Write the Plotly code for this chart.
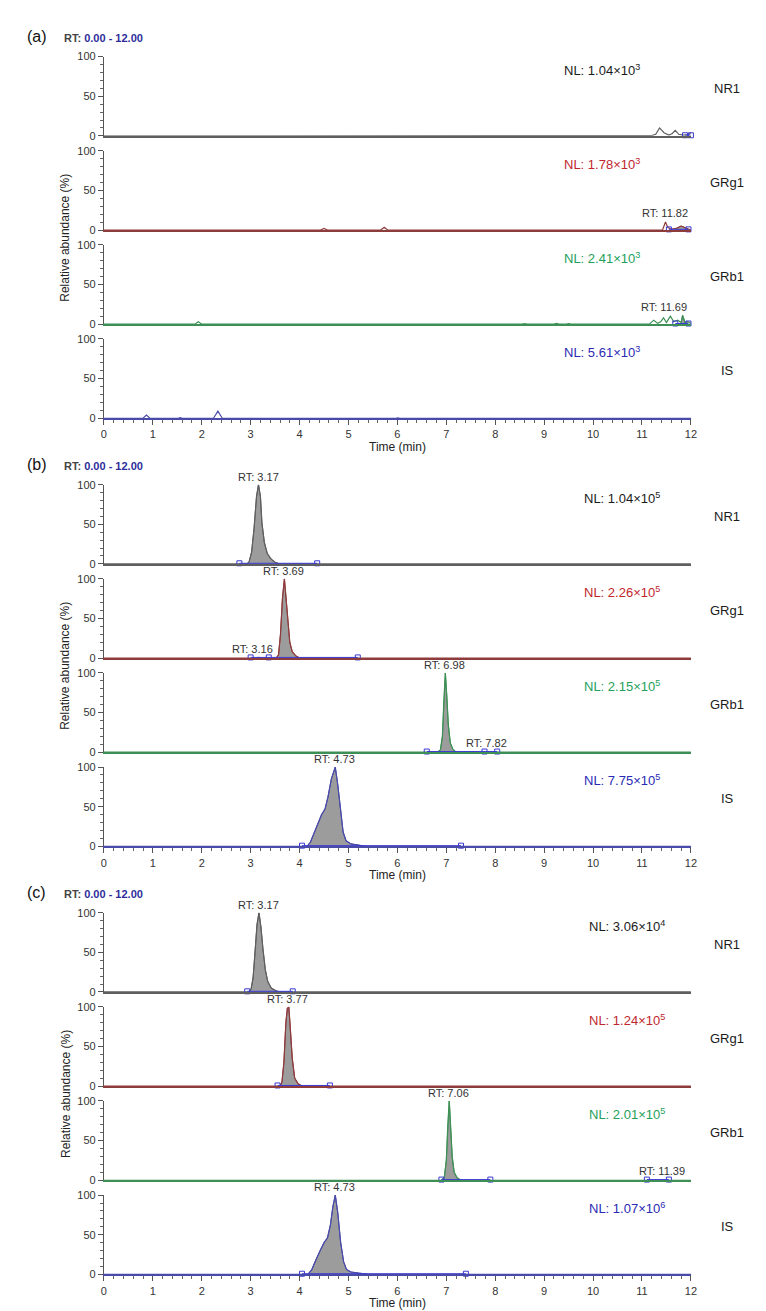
import plotly.graph_objects as go

W, H = 766, 1311
PX0, PX1 = 94, 688
PANEL_TOPS = [43, 475, 907]
SUB_STEP = 95
SUB_H = 80

compounds = ["NR1", "GRg1", "GRb1", "IS"]
line_colors = ["#5f5f5f", "#8e3b3b", "#3d8f55", "#4a4aa8"]
nl_colors = ["#1a1a1a", "#c0272d", "#23a05a", "#2a2ab4"]
panel_labels = ["(a)", "(b)", "(c)"]
nl_x_px = [558, 578, 583]

nl_mant = [["1.04", "1.78", "2.41", "5.61"],
           ["1.04", "2.26", "2.15", "7.75"],
           ["3.06", "1.24", "2.01", "1.07"]]
nl_exp = [[3, 3, 3, 3],
          [5, 5, 5, 5],
          [4, 5, 5, 6]]

# ---------------- panel (a): blank ----------------
a_nr1_t = [0, 1.6, 1.65, 1.7, 2.9, 2.95, 3.0, 5.5, 5.55, 5.6, 5.65, 5.7, 8.25, 8.3, 8.35, 9.95, 10.0, 10.05,
           11.2, 11.28, 11.36, 11.45, 11.55, 11.62, 11.68, 11.75, 11.85, 11.95, 12.0]
a_nr1_y = [0, 0, 0.8, 0, 0, 0.6, 0, 0, 0.6, 0, 0.6, 0, 0, 0.5, 0, 0, 0.6, 0,
           0.5, 2, 10, 4, 1, 3, 7, 2, 1, 1.5, 4]
a_grg1_t = [0, 1.88, 1.93, 1.98, 3.07, 3.12, 3.17, 3.67, 3.72, 3.77, 4.43, 4.5, 4.57, 5.66, 5.73, 5.8,
            6.45, 6.5, 6.55, 9.2, 9.25, 9.3, 10.6, 10.64, 10.68, 11.0, 11.04, 11.08, 11.42, 11.48, 11.53,
            11.6, 11.7, 11.8, 11.88, 11.95, 12.0]
a_grg1_y = [0, 0, 0.8, 0, 0, 0.6, 0, 0, 0.6, 0, 0, 2, 0, 0, 3.5, 0,
            0, 0.8, 0, 0, 0.5, 0, 0, 0.5, 0, 0, 0.6, 0, 0, 10, 3,
            1, 2, 5, 3, 1, 0]
a_grb1_t = [0, 1.86, 1.93, 2.0, 8.55, 8.6, 8.65, 8.95, 9.0, 9.05, 9.2, 9.25, 9.3, 9.45, 9.5, 9.55,
            10.3, 10.34, 10.38, 10.5, 10.54, 10.58, 10.8, 10.83, 10.86, 11.15, 11.24, 11.32, 11.38, 11.44,
            11.5, 11.58, 11.65, 11.73, 11.8, 11.83, 11.88, 11.93, 12.0]
a_grb1_y = [0, 0, 3, 0, 0, 0.8, 0, 0, 0.8, 0, 0, 1, 0, 0, 0.8, 0,
            0, 0.8, 0, 0, 0.8, 0, 0, 0.8, 0, 0, 5, 1, 3, 8,
            2, 10, 3, 5, 2, 11, 2, 3, 1]
a_is_t = [0, 0.8, 0.87, 0.94, 1.52, 1.56, 1.6, 2.24, 2.33, 2.42, 5.97, 6.01, 6.05, 7.04, 7.08, 7.12,
          8.34, 8.38, 8.42, 12.0]
a_is_y = [0, 0, 4, 0, 0, 0.8, 0, 0, 9, 0, 0, 0.5, 0, 0, 0.5, 0,
          0, 0.8, 0, 0]

# ---------------- panel (b): standard ----------------
b_nr1_t = [0, 2.93, 2.97, 3.02, 3.07, 3.12, 3.16, 3.2, 3.23, 3.28, 3.34, 3.42, 3.5, 3.58, 12]
b_nr1_y = [0, 0, 3, 15, 45, 85, 100, 85, 52, 27, 13, 6, 2, 0, 0]
b_grg1_t = [0, 3.1, 3.16, 3.22, 3.52, 3.57, 3.61, 3.65, 3.69, 3.72, 3.76, 3.8, 3.85, 3.92, 4.0, 12]
b_grg1_y = [0, 0, 1, 0, 0, 4, 30, 75, 100, 80, 45, 20, 8, 3, 0, 0]
b_grb1_t = [0, 6.82, 6.88, 6.92, 6.95, 6.98, 7.01, 7.04, 7.08, 7.13, 7.2, 7.78, 7.82, 7.86, 12]
b_grb1_y = [0, 0, 3, 20, 65, 100, 70, 35, 12, 4, 0, 0, 0.6, 0, 0]
b_is_t = [0, 4.15, 4.22, 4.3, 4.38, 4.45, 4.52, 4.58, 4.65, 4.73, 4.78, 4.84, 4.89, 4.95, 5.05, 5.2, 5.35, 12]
b_is_y = [0, 0, 5, 17, 30, 40, 47, 62, 85, 100, 78, 42, 18, 7, 3, 1.5, 0, 0]

# ---------------- panel (c): sample ----------------
c_nr1_t = [0, 2.97, 3.01, 3.05, 3.09, 3.13, 3.17, 3.21, 3.25, 3.3, 3.35, 3.42, 3.5, 3.58, 12]
c_nr1_y = [0, 0, 4, 18, 50, 85, 100, 82, 55, 28, 13, 5, 2, 0, 0]
c_grg1_t = [0, 3.6, 3.64, 3.68, 3.72, 3.75, 3.78, 3.81, 3.85, 3.9, 3.97, 4.05, 12]
c_grg1_y = [0, 0, 5, 30, 80, 98, 100, 75, 35, 10, 3, 0, 0]
c_grb1_t = [0, 6.9, 6.96, 7.0, 7.03, 7.06, 7.09, 7.12, 7.16, 7.22, 7.3, 11.35, 11.39, 11.43, 12]
c_grb1_y = [0, 0, 4, 25, 70, 100, 65, 30, 10, 3, 0, 0, 0.6, 0, 0]
c_is_t = [0, 4.17, 4.25, 4.33, 4.42, 4.5, 4.57, 4.63, 4.68, 4.73, 4.78, 4.84, 4.9, 4.96, 5.05, 5.2, 5.4, 12]
c_is_y = [0, 0, 6, 18, 30, 40, 46, 62, 85, 100, 78, 40, 16, 6, 3, 1.5, 0, 0]

# integration boundaries (blue squares)
a_int = [[11.88, 12.0], [11.55, 11.95], [11.68, 11.95], []]
b_int = [[2.77, 4.36], [3.0, 3.37, 5.19], [6.6, 7.78, 8.04], [4.05, 7.3]]
c_int = [[2.93, 3.86], [3.55, 4.62], [6.9, 7.9, None, 11.1, 11.55], [4.05, 7.4]]

# shaded peak windows
a_fill = [None, [11.7, 11.95], [11.75, 11.93], None]
b_fill = [[2.77, 4.36], [3.37, 5.19], [6.6, 7.78], [4.05, 7.3]]
c_fill = [[2.93, 3.86], [3.55, 4.62], [6.9, 7.9], [4.05, 7.4]]

# RT labels: (text, x, y)
a_labels = [[], [("RT: 11.82", 11.48, 11)], [("RT: 11.69", 11.45, 11)], []]
b_labels = [[("RT: 3.17", 3.16, 100)],
            [("RT: 3.69", 3.67, 100), ("RT: 3.16", 3.04, 1)],
            [("RT: 6.98", 6.97, 100), ("RT: 7.82", 7.82, 1)],
            [("RT: 4.73", 4.71, 100)]]
c_labels = [[("RT: 3.17", 3.17, 100)],
            [("RT: 3.77", 3.76, 100)],
            [("RT: 7.06", 7.05, 100), ("RT: 11.39", 11.4, 1)],
            [("RT: 4.73", 4.72, 100)]]

panels = [
    dict(t=[a_nr1_t, a_grg1_t, a_grb1_t, a_is_t], y=[a_nr1_y, a_grg1_y, a_grb1_y, a_is_y],
         integ=a_int, fill=a_fill, labels=a_labels),
    dict(t=[b_nr1_t, b_grg1_t, b_grb1_t, b_is_t], y=[b_nr1_y, b_grg1_y, b_grb1_y, b_is_y],
         integ=b_int, fill=b_fill, labels=b_labels),
    dict(t=[c_nr1_t, c_grg1_t, c_grb1_t, c_is_t], y=[c_nr1_y, c_grg1_y, c_grb1_y, c_is_y],
         integ=c_int, fill=c_fill, labels=c_labels),
]

FONT = "Liberation Sans, Arial, sans-serif"
INT_COLOR = "#3a3ad0"
FILL_COLOR = "#9c9c9c"

fig = go.Figure()
layout = dict(width=W, height=H, margin=dict(l=0, r=0, t=0, b=0),
              paper_bgcolor="white", plot_bgcolor="rgba(0,0,0,0)",
              showlegend=False, hovermode=False)
annotations = []


def px_x(px):
    return px / W


def px_y(py):
    return 1 - py / H


k = 0
for p, panel in enumerate(panels):
    ptop = PANEL_TOPS[p]
    for s in range(4):
        k += 1
        xa = "x" if k == 1 else f"x{k}"
        ya = "y" if k == 1 else f"y{k}"
        xkey = "xaxis" if k == 1 else f"xaxis{k}"
        ykey = "yaxis" if k == 1 else f"yaxis{k}"
        top = ptop + s * SUB_STEP
        bot = top + SUB_H
        bottom_sub = (s == 3)
        col = line_colors[s]

        layout[xkey] = dict(
            domain=[px_x(PX0), px_x(PX1)], range=[0, 12], anchor=ya,
            showgrid=False, zeroline=False, showline=True, linecolor=col, linewidth=2,
            ticks="outside" if bottom_sub else "", tick0=0, dtick=1, ticklen=5, tickwidth=1,
            tickcolor="#555", showticklabels=bottom_sub,
            tickfont=dict(family=FONT, size=11, color="#333"),
            minor=dict(dtick=0.2, ticks="outside" if bottom_sub else "", ticklen=3,
                       tickcolor="#666", tickwidth=1, showgrid=False),
            fixedrange=True,
        )
        layout[ykey] = dict(
            domain=[px_y(bot), px_y(top)], range=[0, 100], anchor=xa,
            showgrid=False, zeroline=False, showline=True, linecolor="#555", linewidth=1,
            ticks="outside", tickvals=[0, 50, 100], ticklen=5, tickwidth=1, tickcolor="#555",
            tickfont=dict(family=FONT, size=11, color="#333"),
            minor=dict(dtick=10, ticks="outside", ticklen=3, tickcolor="#666", tickwidth=1,
                       showgrid=False),
            fixedrange=True,
        )

        T = panel["t"][s]
        Y = panel["y"][s]
        fw = panel["fill"][s]
        if fw is not None:
            ft = [t for t in T if fw[0] <= t <= fw[1]]
            fy = [y for t, y in zip(T, Y) if fw[0] <= t <= fw[1]]
            fig.add_trace(go.Scatter(x=ft, y=fy, mode="lines", fill="tozeroy",
                                     fillcolor=FILL_COLOR, line=dict(color=col, width=1),
                                     xaxis=xa, yaxis=ya, hoverinfo="skip"))
        fig.add_trace(go.Scatter(x=T, y=Y, mode="lines",
                                 line=dict(color=col, width=1.2),
                                 xaxis=xa, yaxis=ya, hoverinfo="skip"))
        ib = panel["integ"][s]
        if ib:
            fig.add_trace(go.Scatter(x=ib, y=[0.8 if v is not None else None for v in ib],
                                     mode="lines+markers", connectgaps=False,
                                     line=dict(color=INT_COLOR, width=1),
                                     marker=dict(symbol="square-open", size=5, color=INT_COLOR,
                                                 line=dict(width=1)),
                                     cliponaxis=False,
                                     xaxis=xa, yaxis=ya, hoverinfo="skip"))
        for (txt, lx, ly) in panel["labels"][s]:
            annotations.append(dict(text=txt, x=lx, y=ly, xref=xa, yref=ya,
                                    xanchor="center", yanchor="bottom", yshift=0,
                                    showarrow=False,
                                    font=dict(family=FONT, size=11, color="#333")))
        # NL text
        annotations.append(dict(
            text=f"NL: {nl_mant[p][s]}×10<sup>{nl_exp[p][s]}</sup>",
            x=px_x(nl_x_px[p]), y=px_y(top + 3), xref="paper", yref="paper",
            xanchor="left", yanchor="top", showarrow=False,
            font=dict(family=FONT, size=13, color=nl_colors[s])))
        # compound label
        annotations.append(dict(
            text=compounds[s], x=px_x(725), y=px_y((top + bot) / 2 - 8),
            xref="paper", yref="paper", xanchor="center", yanchor="middle",
            showarrow=False, font=dict(family=FONT, size=13, color="#1a1a1a")))

    pbot = ptop + 3 * SUB_STEP + SUB_H
    # panel label and RT range
    annotations.append(dict(text=panel_labels[p], x=px_x(14), y=px_y(ptop - 20),
                            xref="paper", yref="paper", xanchor="left", yanchor="middle",
                            showarrow=False, font=dict(family=FONT, size=16, color="#111")))
    annotations.append(dict(text='<span style="color:#444">RT:</span> 0.00 - 12.00',
                            x=px_x(52), y=px_y(ptop - 19),
                            xref="paper", yref="paper", xanchor="left", yanchor="middle",
                            showarrow=False,
                            font=dict(family=FONT, size=11, color="#2e2e9a", weight="bold")))
    # y title
    annotations.append(dict(text="Relative abundance (%)", x=px_x(55),
                            y=px_y((ptop + pbot) / 2), xref="paper", yref="paper",
                            xanchor="center", yanchor="middle", textangle=-90,
                            showarrow=False, font=dict(family=FONT, size=12, color="#222")))
    # x title
    annotations.append(dict(text="Time (min)", x=px_x((PX0 + PX1) / 2), y=px_y(pbot + 29),
                            xref="paper", yref="paper", xanchor="center", yanchor="middle",
                            showarrow=False, font=dict(family=FONT, size=12, color="#222")))

layout["annotations"] = annotations
fig.update_layout(**layout)
fig.write_html("out.html")
